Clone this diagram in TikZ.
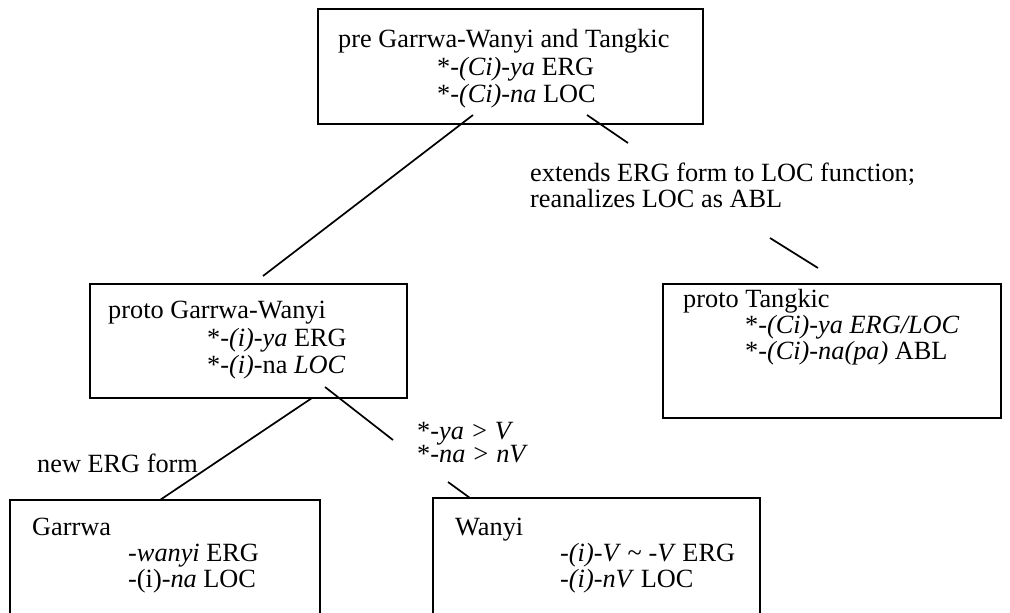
\documentclass[tikz,border=0pt]{standalone}
\usepackage{fontspec}
\setmainfont{Liberation Serif}
\begin{document}
\begin{tikzpicture}[x=1pt,y=-1pt,
  box/.style={draw,line width=1.8pt},
  txt/.style={anchor=base west,inner sep=0pt,font=\fontsize{26.3}{30}\selectfont},
  conn/.style={line width=1.7pt}]
\useasboundingbox (0,0) rectangle (1010,613);
\clip (0,0) rectangle (1010,613);
% boxes
\draw[box] (318,9) rectangle (703,124);
\draw[box] (90,284) rectangle (407,398);
\draw[box] (663,284) rectangle (1001,418);
\draw[box] (10,500) rectangle (320,630);
\draw[box] (433,498) rectangle (760,630);
% top box text
\node[txt] (t1) at (338,47) {pre Garrwa-Wanyi and Tangkic};
\node[txt] (t2) at (437,75) {*-\textit{(Ci)-ya} ERG};
\node[txt] (t3) at (437,102) {*-\textit{(Ci)-na} LOC};
% label
\node[txt] (e1) at (530,181) {extends ERG form to LOC function;};
\node[txt] (e2) at (530,207) {reanalizes LOC as ABL};
% proto Garrwa-Wanyi
\node[txt] (g1) at (108,318) {proto Garrwa-Wanyi};
\node[txt] (g2) at (207,346) {*-\textit{(i)-ya} ERG};
\node[txt] (g3) at (207,373) {*-\textit{(i)}-na \textit{LOC}};
% proto Tangkic
\node[txt] (k1) at (683,307) {proto Tangkic};
\node[txt] (k2) at (745,333) {*-\textit{(Ci)-ya ERG/LOC}};
\node[txt] (k3) at (745,359) {*-\textit{(Ci)-na(pa)} ABL};
% mid labels
\node[txt] (n1) at (37,472) {new ERG form};
\node[txt] (s1) at (417,439) {*-\textit{ya > V}};
\node[txt] (s2) at (417,462) {*-\textit{na > nV}};
% Garrwa
\node[txt] (w1) at (32,535) {Garrwa};
\node[txt] (w2) at (128,561) {-\textit{wanyi} ERG};
\node[txt] (w3) at (128,587) {-(i)-\textit{na} LOC};
% Wanyi
\node[txt] (y1) at (455,535) {Wanyi};
\node[txt] (y2) at (560,561) {-\textit{(i)-V} \textasciitilde{} -\textit{V} ERG};
\node[txt] (y3) at (560,587) {-\textit{(i)-nV} LOC};
% connector end points
\coordinate (a1) at (473,115); \coordinate (a2) at (263,276);
\coordinate (b1) at (587,115); \coordinate (b2) at (628,143);
\coordinate (c1) at (770,238); \coordinate (c2) at (818,268);
\coordinate (d1) at (312,398); \coordinate (d2) at (160,500);
\coordinate (f1) at (325,387); \coordinate (f2) at (393,440);
\coordinate (h1) at (448,482); \coordinate (h2) at (470,498);
\draw[conn] (a1) -- (a2);
\draw[conn] (b1) -- (b2);
\draw[conn] (c1) -- (c2);
\draw[conn] (d1) -- (d2);
\draw[conn] (f1) -- (f2);
\draw[conn] (h1) -- (h2);
\end{tikzpicture}
\end{document}
